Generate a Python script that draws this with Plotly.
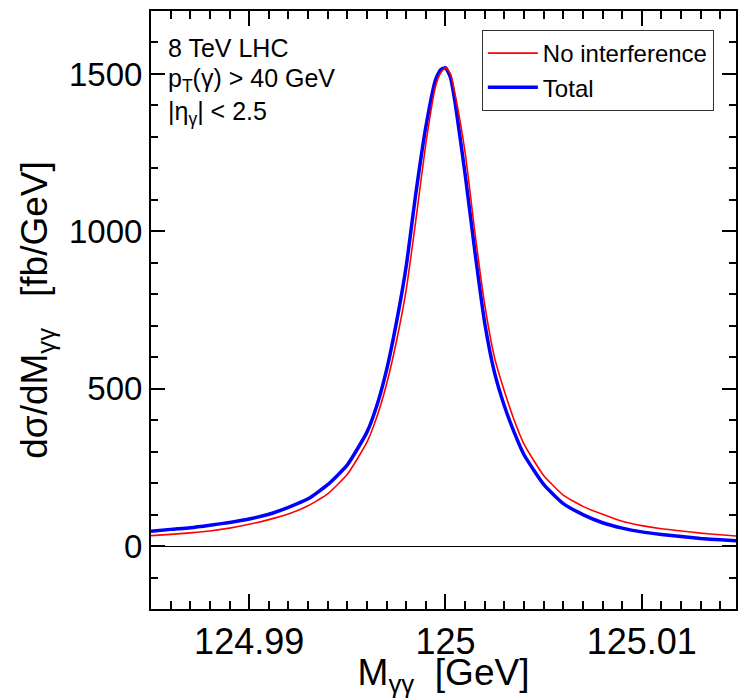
import plotly.graph_objects as go

# Diphoton invariant mass grid (GeV)
mass = [124.985, 124.986, 124.987, 124.988, 124.989, 124.990, 124.991, 124.992,
        124.993, 124.994, 124.995, 124.996, 124.9965, 124.997, 124.9975, 124.998,
        124.9985, 124.999, 124.9995, 124.99975, 125.000, 125.00025, 125.0005,
        125.001, 125.0015, 125.002, 125.0025, 125.003, 125.0035, 125.004, 125.005,
        125.006, 125.007, 125.008, 125.009, 125.010, 125.011, 125.012, 125.013,
        125.014, 125.015]

# dsigma/dM [fb/GeV], signal only
no_interference = [33, 37, 42, 48, 57, 69, 84, 102, 128, 166, 228, 330, 410, 515,
                   650, 815, 1040, 1279, 1462, 1503, 1521, 1500, 1432, 1250, 995,
                   766, 598, 492, 400, 324, 224, 162, 126, 101, 79, 65, 55, 48, 41,
                   36, 31]

# dsigma/dM [fb/GeV], signal + interference
total = [47, 53, 58, 66, 75, 86, 101, 123, 150, 195, 258, 362, 446, 560, 710, 890,
         1125, 1332, 1483, 1513, 1520, 1490, 1405, 1181, 935, 708, 550, 445, 361,
         290, 196, 135, 100, 74, 57, 45, 37, 30, 24, 20, 16]

# axis tick spacing: major / minor
x_major, x_minor, x_tick0 = 0.01, 0.001, 125.0
y_major, y_minor = 500, 100

series_names = ["No interference", "Total"]
series_colors = ["#ff0000", "#0000ff"]

notes = ["8 TeV LHC", "p<sub>T</sub>(γ) > 40 GeV", "|η<sub>γ</sub>| < 2.5"]

FONT = "Liberation Sans, Arial, sans-serif"
W, H = 738, 698
ML, MT, MB = 151, 11, 89
PLOT_H = H - MT - MB
PX_PER_GEV = 19700.0
x_lo = 124.985
x_hi = x_lo + (W - ML) / PX_PER_GEV


def px_x(px):
    return (px - ML) / (W - ML)


def px_y(py):
    return (MT + PLOT_H - py) / PLOT_H


fig = go.Figure()
fig.add_trace(go.Scatter(x=mass, y=total, mode="lines", name=series_names[1],
                         line=dict(color=series_colors[1], width=3.5,
                                   shape="spline", smoothing=0.5),
                         legendrank=2))
fig.add_trace(go.Scatter(x=mass, y=no_interference, mode="lines", name=series_names[0],
                         line=dict(color=series_colors[0], width=1.6,
                                   shape="spline", smoothing=0.5),
                         legendrank=1))

fig.update_layout(
    width=W, height=H,
    margin=dict(l=ML, r=0, t=MT, b=MB, pad=0),
    paper_bgcolor="white", plot_bgcolor="white",
    font=dict(family=FONT, color="black"),
    showlegend=True,
    legend=dict(x=px_x(483), y=px_y(30), xanchor="left", yanchor="top",
                bgcolor="white", bordercolor="#333333", borderwidth=1,
                font=dict(size=24, family=FONT, color="black"),
                itemwidth=50, tracegroupgap=0),
    xaxis=dict(
        range=[x_lo, x_hi], tick0=x_tick0, dtick=x_major,
        ticks="inside", ticklen=15, tickwidth=2, tickcolor="black",
        minor=dict(dtick=x_minor, ticks="inside", ticklen=8,
                   tickwidth=2, tickcolor="black"),
        showline=True, linecolor="black", linewidth=2, mirror="ticks",
        showgrid=False, zeroline=False,
        tickfont=dict(size=36, family=FONT),
        title=dict(text="M<sub>γγ</sub>  [GeV]", font=dict(size=37, family=FONT),
                   standoff=0),
    ),
    yaxis=dict(
        range=[-200, 1700], tick0=0, dtick=y_major,
        ticks="inside", ticklen=14, tickwidth=2, tickcolor="black",
        minor=dict(dtick=y_minor, ticks="inside", ticklen=7,
                   tickwidth=2, tickcolor="black"),
        showline=True, linecolor="black", linewidth=2, mirror="ticks",
        showgrid=False, zeroline=True, zerolinecolor="black", zerolinewidth=1,
        tickfont=dict(size=33, family=FONT),
        title=dict(text="dσ/dM<sub>γγ</sub>   [fb/GeV]", font=dict(size=37, family=FONT),
                   standoff=10),
    ),
)

# selection notes, top left
note_y = [48, 80, 113]
for txt, py in zip(notes, note_y):
    fig.add_annotation(xref="paper", yref="paper", x=px_x(166), y=px_y(py),
                       text=txt, showarrow=False, xanchor="left", yanchor="middle",
                       font=dict(size=25, family=FONT, color="black"))

fig.write_html("out.html")
